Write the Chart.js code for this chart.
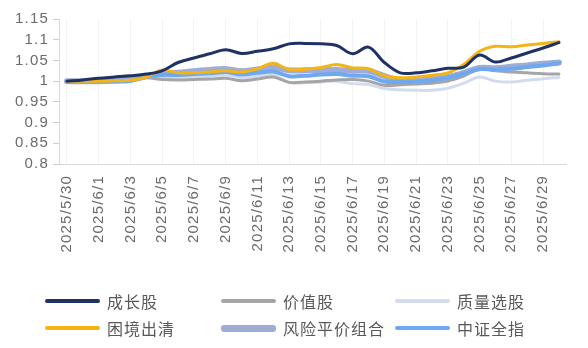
<!DOCTYPE html>
<html lang="zh">
<head>
<meta charset="UTF-8" />
<title>风格组合净值</title>
<script src="https://cdn.jsdelivr.net/npm/chart.js"></script>
<style>
  html, body { margin: 0; padding: 0; background: #fff; }
  #wrap { position: relative; width: 588px; height: 348px; }
  #chart { position: absolute; left: 0; top: 0; }
  .legend { position: absolute; left: 0; top: 0; width: 588px; height: 348px; pointer-events: none; }
  .item { position: absolute; display: flex; align-items: center; height: 20px;
          font-family: "Noto Sans CJK SC", sans-serif; font-size: 16px; letter-spacing: 1px; color: #595959; }
  .item span.line { display: inline-block; width: 55px; border-radius: 3px; margin-right: 7px; }
</style>
</head>
<body>
<div id="wrap">
  <canvas id="chart" width="588" height="270"></canvas>
  <div class="legend" id="legend"></div>
</div>
<script>
// 日期（自然日）
const dates = ["2025/5/30","2025/5/31","2025/6/1","2025/6/2","2025/6/3","2025/6/4","2025/6/5","2025/6/6",
  "2025/6/7","2025/6/8","2025/6/9","2025/6/10","2025/6/11","2025/6/12","2025/6/13","2025/6/14",
  "2025/6/15","2025/6/16","2025/6/17","2025/6/18","2025/6/19","2025/6/20","2025/6/21","2025/6/22",
  "2025/6/23","2025/6/24","2025/6/25","2025/6/26","2025/6/27","2025/6/28","2025/6/29","2025/6/30"];

// 各组合净值
const growth = [1.000,1.003,1.007,1.010,1.013,1.017,1.025,1.045,1.056,1.066,1.076,1.067,1.072,1.078,1.090,1.091,
  1.090,1.086,1.066,1.082,1.045,1.020,1.020,1.025,1.031,1.034,1.063,1.046,1.056,1.068,1.080,1.093];
const value = [1.000,1.000,1.000,1.000,1.001,1.008,1.004,1.003,1.004,1.005,1.007,1.001,1.005,1.010,0.997,0.998,
  1.000,1.003,1.004,1.000,0.990,0.991,0.993,0.995,1.000,1.012,1.030,1.025,1.022,1.020,1.018,1.017];
const quality = [1.000,1.000,1.000,1.000,1.001,1.008,1.008,1.008,1.010,1.012,1.015,1.008,1.012,1.015,0.997,0.996,
  0.998,1.000,0.994,0.992,0.982,0.979,0.978,0.978,0.983,0.995,1.010,1.000,0.998,1.002,1.006,1.009];
const distress = [1.000,1.000,1.000,1.001,1.002,1.010,1.027,1.020,1.020,1.022,1.025,1.022,1.030,1.043,1.028,1.029,
  1.033,1.040,1.032,1.030,1.013,1.008,1.010,1.014,1.020,1.040,1.072,1.084,1.083,1.087,1.091,1.095];
const riskParity = [1.000,1.000,1.000,1.001,1.003,1.012,1.018,1.020,1.024,1.027,1.029,1.024,1.028,1.033,1.026,1.026,
  1.027,1.027,1.025,1.025,1.012,1.002,1.003,1.005,1.010,1.020,1.032,1.031,1.035,1.038,1.042,1.045];
const allIndex = [1.000,1.000,1.000,1.000,1.001,1.012,1.015,1.015,1.017,1.019,1.022,1.016,1.020,1.023,1.012,1.013,
  1.016,1.017,1.013,1.012,0.999,0.998,0.999,1.002,1.008,1.018,1.029,1.028,1.030,1.034,1.038,1.043];

const series = [
  { label: "成长股", data: growth, color: "#1f3266", width: 3, order: 1, lw: 3.5 },
  { label: "价值股", data: value, color: "#a5a5a5", width: 3, order: 5, lw: 3.5 },
  { label: "质量选股", data: quality, color: "#d3dbee", width: 3, order: 6, lw: 3.5 },
  { label: "困境出清", data: distress, color: "#f4b414", width: 3, order: 2, lw: 3.5 },
  { label: "风险平价组合", data: riskParity, color: "#9eacd6", width: 6, order: 4, lw: 7 },
  { label: "中证全指", data: allIndex, color: "#6ea9f0", width: 4, order: 3, lw: 3.5 }
];

// 文字加一点字距
const spacing = {
  id: "spacing",
  beforeDraw(chart) { chart.ctx.letterSpacing = "1.2px"; }
};

new Chart(document.getElementById("chart"), {
  type: "line",
  data: {
    labels: dates,
    datasets: series.map(s => ({
      label: s.label,
      data: s.data,
      borderColor: s.color,
      backgroundColor: s.color,
      borderWidth: s.width,
      order: s.order,
      pointRadius: 0,
      tension: 0.35,
      borderCapStyle: "round"
    }))
  },
  options: {
    responsive: false,
    animation: false,
    layout: { padding: { top: 19, right: 4, left: 0, bottom: 0 } },
    plugins: { legend: { display: false }, tooltip: { enabled: false } },
    scales: {
      x: {
        offset: true,
        border: { color: "#d9d9d9", width: 1 },
        grid: {
          color: c => (c.index % 2 === 0 ? "#f3f3f3" : "rgba(0,0,0,0)"),
          drawTicks: false
        },
        ticks: {
          autoSkip: false,
          maxRotation: 90,
          minRotation: 90,
          padding: 11,
          color: "#6b6b6b",
          font: { family: "Liberation Sans", size: 15 },
          callback: function (v, i) { return i % 2 === 0 ? this.getLabelForValue(v) : ""; }
        },
        afterFit: s => { s.height = 106; }
      },
      y: {
        min: 0.8,
        max: 1.15,
        border: { color: "#d9d9d9", width: 1 },
        grid: { drawOnChartArea: false, drawTicks: true, tickLength: 6, tickColor: "#cfcfcf" },
        ticks: {
          autoSkip: false,
          stepSize: 0.05,
          padding: 4,
          color: "#6b6b6b",
          font: { family: "Liberation Sans", size: 15 },
          callback: v => String(Math.round(v * 100) / 100)
        },
        afterFit: s => { s.width = 59; }
      }
    }
  },
  plugins: [spacing]
});

// 图例
const legendPos = [[45, 291], [221, 291], [395, 291], [45, 318], [221, 318], [395, 318]];
const legend = document.getElementById("legend");
series.forEach((s, i) => {
  const d = document.createElement("div");
  d.className = "item";
  d.style.left = legendPos[i][0] + "px";
  d.style.top = legendPos[i][1] + "px";
  d.innerHTML = '<span class="line" style="height:' + s.lw + 'px;background:' + s.color + '"></span>' + s.label;
  legend.appendChild(d);
});
</script>
</body>
</html>
